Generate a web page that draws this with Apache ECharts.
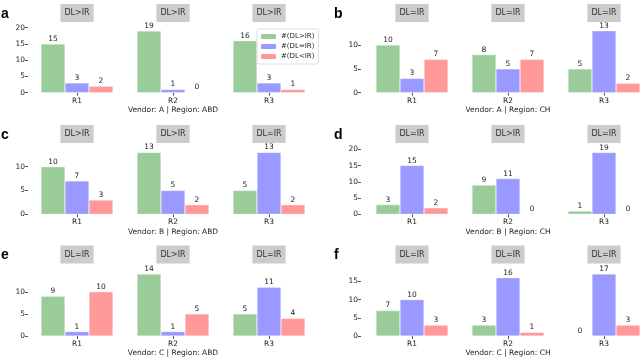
<!DOCTYPE html>
<html>
<head>
<meta charset="utf-8">
<script src="https://cdn.jsdelivr.net/npm/echarts@6/dist/echarts.min.js"></script>
<style>html,body{margin:0;padding:0;background:#fff}#c{width:640px;height:360px}</style>
</head>
<body>
<div id="c"></div>
<script>
var categories = ['R1', 'R2', 'R3'];
var seriesNames = ['#(DL>IR)', '#(DL=IR)', '#(DL<IR)'];
var panelLetters = ['a', 'b', 'c', 'd', 'e', 'f'];

// panel a: Vendor A | Region ABD
var gtA = [15, 19, 16], eqA = [3, 1, 3], ltA = [2, 0, 1];
var titlesA = ['DL>IR', 'DL>IR', 'DL>IR'];
var ticksA = [0, 5, 10, 15, 20];
// panel b: Vendor A | Region CH
var gtB = [10, 8, 5], eqB = [3, 5, 13], ltB = [7, 7, 2];
var titlesB = ['DL=IR', 'DL=IR', 'DL=IR'];
var ticksB = [0, 5, 10];
// panel c: Vendor B | Region ABD
var gtC = [10, 13, 5], eqC = [7, 5, 13], ltC = [3, 2, 2];
var titlesC = ['DL>IR', 'DL>IR', 'DL=IR'];
var ticksC = [0, 5, 10];
// panel d: Vendor B | Region CH
var gtD = [3, 9, 1], eqD = [15, 11, 19], ltD = [2, 0, 0];
var titlesD = ['DL=IR', 'DL>IR', 'DL=IR'];
var ticksD = [0, 5, 10, 15, 20];
// panel e: Vendor C | Region ABD
var gtE = [9, 14, 5], eqE = [1, 1, 11], ltE = [10, 5, 4];
var titlesE = ['DL=IR', 'DL>IR', 'DL=IR'];
var ticksE = [0, 5, 10];
// panel f: Vendor C | Region CH
var gtF = [7, 3, 0], eqF = [10, 16, 17], ltF = [3, 1, 3];
var titlesF = ['DL=IR', 'DL=IR', 'DL=IR'];
var ticksF = [0, 5, 10, 15];

var vendorLabels = ['Vendor: A | Region: ABD', 'Vendor: A | Region: CH', 'Vendor: B | Region: ABD',
                    'Vendor: B | Region: CH', 'Vendor: C | Region: ABD', 'Vendor: C | Region: CH'];

var panels = [
  {gt: gtA, eq: eqA, lt: ltA, titles: titlesA, ticks: ticksA},
  {gt: gtB, eq: eqB, lt: ltB, titles: titlesB, ticks: ticksB},
  {gt: gtC, eq: eqC, lt: ltC, titles: titlesC, ticks: ticksC},
  {gt: gtD, eq: eqD, lt: ltD, titles: titlesD, ticks: ticksD},
  {gt: gtE, eq: eqE, lt: ltE, titles: titlesE, ticks: ticksE},
  {gt: gtF, eq: eqF, lt: ltF, titles: titlesF, ticks: ticksF}
];

var colors = ['rgb(153,204,153)', 'rgb(153,153,255)', 'rgb(255,153,153)'];
var FONT = 'DejaVu Sans';
var FS = 7.5;
var colLeft = [[41, 137, 233], [376, 472, 568]];
var groupW = 72;
var rowZero = [92.7, 214.3, 336];
var plotH = 65;
var titleY = [13, 134, 254.5];

var grids = [], xAxes = [], yAxes = [], series = [], graphics = [];

panels.forEach(function (p, pi) {
  var col = pi % 2, row = Math.floor(pi / 2);
  var allVals = p.gt.concat(p.eq, p.lt);
  var vmax = Math.max.apply(null, allVals) * 1.05;
  var lastTick = p.ticks[p.ticks.length - 1];
  if (lastTick > vmax) vmax = lastTick;
  for (var k = 0; k < 3; k++) {
    var gi = grids.length;
    var left = colLeft[col][k];
    grids.push({left: left, top: rowZero[row] - plotH, width: groupW, height: plotH, containLabel: false});
    xAxes.push({
      type: 'category', gridIndex: gi, data: [categories[k]],
      axisLine: {show: false},
      axisTick: {show: true, alignWithLabel: true, length: 3, lineStyle: {color: '#555'}},
      axisLabel: {fontSize: FS, color: '#222', margin: 4, fontFamily: FONT}
    });
    yAxes.push({
      type: 'value', gridIndex: gi, min: 0, max: vmax,
      show: k === 0,
      offset: col === 0 ? 13 : 15,
      splitLine: {show: false},
      axisLine: {show: false},
      axisTick: {show: true, length: 3, customValues: p.ticks, lineStyle: {color: '#555'}},
      axisLabel: {fontSize: FS, color: '#222', margin: 3, fontFamily: FONT, customValues: p.ticks}
    });
    var vals = [p.gt[k], p.eq[k], p.lt[k]];
    for (var s = 0; s < 3; s++) {
      series.push({
        type: 'bar', name: seriesNames[s], xAxisIndex: gi, yAxisIndex: gi,
        data: [vals[s]], barGap: '0%', barCategoryGap: '0%',
        itemStyle: {color: colors[s], borderColor: 'rgba(255,255,255,0.6)', borderWidth: 0.5},
        label: {show: true, position: 'top', fontSize: FS, color: '#222', distance: 1, fontFamily: FONT},
        animation: false
      });
    }
    graphics.push({
      type: 'text', x: left + groupW / 2, y: titleY[row],
      style: {text: p.titles[k], align: 'center', verticalAlign: 'middle', fontSize: 8, fill: '#333',
              fontFamily: FONT, backgroundColor: '#cccccc', padding: [5, 4, 5, 4]}
    });
  }
  graphics.push({
    type: 'text', x: colLeft[col][1] + groupW / 2, y: rowZero[row] + 17.5,
    style: {text: vendorLabels[pi], align: 'center', verticalAlign: 'middle', fontSize: FS, fill: '#222', fontFamily: FONT}
  });
  graphics.push({
    type: 'text', x: col === 0 ? 1 : 334, y: titleY[row] + 1,
    style: {text: panelLetters[pi], align: 'left', verticalAlign: 'middle', fontSize: 14, fontWeight: 'bold', fill: '#000', fontFamily: 'Liberation Sans'}
  });
});

var chart = echarts.init(document.getElementById('c'), null, {renderer: 'canvas'});
chart.setOption({
  animation: false,
  grid: grids, xAxis: xAxes, yAxis: yAxes, series: series,
  legend: {
    data: seriesNames, orient: 'vertical', left: 257, top: 29,
    itemWidth: 15, itemHeight: 5, itemGap: 3,
    backgroundColor: '#fff', borderColor: '#ddd', borderWidth: 1, borderRadius: 2,
    padding: [4, 4, 4, 4],
    textStyle: {fontSize: 7, color: '#222', fontFamily: FONT},
    itemStyle: {borderWidth: 0}
  },
  graphic: graphics
});
</script>
</body>
</html>
